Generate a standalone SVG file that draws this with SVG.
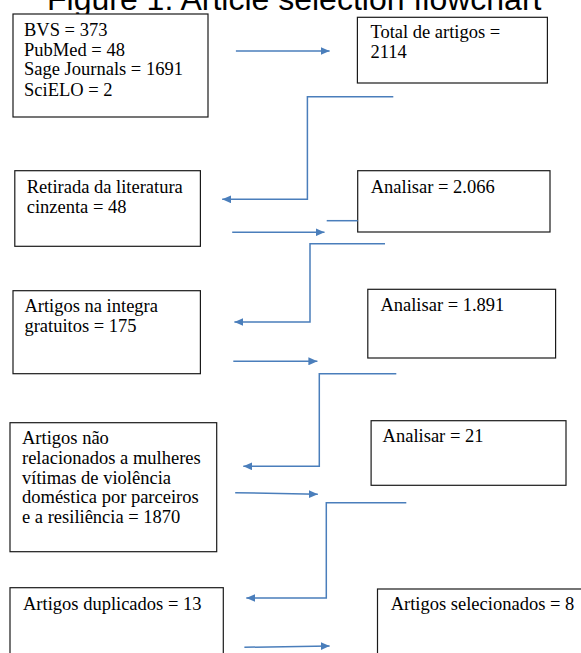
<svg xmlns="http://www.w3.org/2000/svg" width="581" height="653" viewBox="0 0 581 653">
<style>
.box{fill:#fff;stroke:#1a1a1a;stroke-width:1.2}
.t{font-family:"Liberation Serif","Times New Roman",serif;font-size:18.5px;fill:#000}
.title{font-family:"Liberation Sans",Arial,sans-serif;font-size:32px;fill:#000}
.c{fill:none;stroke:#4a7ebb;stroke-width:1.5}
</style>
<defs>
<marker id="ah" markerUnits="userSpaceOnUse" markerWidth="10" markerHeight="8" refX="9" refY="4" orient="auto">
<path d="M0,0 L9,4 L0,8 Z" fill="#4a7ebb"/>
</marker>
</defs>
<rect width="581" height="653" fill="#fff"/>
<text class="title" x="47" y="10">Figure 1. Article selection flowchart</text>

<g id="n1"><rect class="box" x="13" y="14" width="195" height="103"/>
<text class="t" x="24" y="36">BVS = 373</text>
<text class="t" x="24" y="55.7">PubMed = 48</text>
<text class="t" x="24" y="75.3">Sage Journals = 1691</text>
<text class="t" x="24" y="95.7">SciELO = 2</text></g>

<g id="n2"><rect class="box" x="357.4" y="17.3" width="190" height="65.7"/>
<text class="t" x="370.4" y="38.3">Total de artigos =</text>
<text class="t" x="370.4" y="58.3">2114</text></g>

<g id="n3"><rect class="box" x="14.8" y="170.7" width="185.6" height="75.6"/>
<text class="t" x="26.7" y="193.3">Retirada da literatura</text>
<text class="t" x="26.7" y="212.7">cinzenta = 48</text></g>

<g id="n4"><rect class="box" x="357.7" y="170.7" width="192.3" height="61.3"/>
<text class="t" x="370.7" y="192.7">Analisar = 2.066</text></g>

<g id="n5"><rect class="box" x="13" y="290.7" width="187.4" height="83"/>
<text class="t" x="24.4" y="311.7">Artigos na integra</text>
<text class="t" x="24.4" y="331.7">gratuitos = 175</text></g>

<g id="n6"><rect class="box" x="367.8" y="289.3" width="187.8" height="68.7"/>
<text class="t" x="380.4" y="310.7">Analisar = 1.891</text></g>

<g id="n7"><rect class="box" x="10" y="422.7" width="206.7" height="129"/>
<text class="t" x="22" y="444.3">Artigos não</text>
<text class="t" x="22" y="464">relacionados a mulheres</text>
<text class="t" x="22" y="483.5">vítimas de violência</text>
<text class="t" x="22" y="503.3">doméstica por parceiros</text>
<text class="t" x="22" y="523.3">e a resiliência = 1870</text></g>

<g id="n8"><rect class="box" x="371.1" y="420.7" width="194.9" height="64.6"/>
<text class="t" x="382.6" y="442.3">Analisar = 21</text></g>

<g id="n9"><rect class="box" x="10" y="587.7" width="213.3" height="80"/>
<text class="t" x="23" y="610">Artigos duplicados = 13</text></g>

<g id="n10"><rect class="box" x="377.5" y="589" width="220" height="80"/>
<text class="t" x="390.7" y="610">Artigos selecionados = 8</text></g>

<g id="connectors">
<line class="c" x1="235.9" y1="51" x2="329.6" y2="51" marker-end="url(#ah)"/>
<polyline class="c" points="393.3,96.7 307.4,96.7 307.4,199.3 222.2,199.3" marker-end="url(#ah)"/>
<line class="c" x1="232.2" y1="232.3" x2="324.5" y2="232.3" marker-end="url(#ah)"/>
<line class="c" x1="326.7" y1="220.7" x2="357.7" y2="220.7"/>
<polyline class="c" points="385,243.7 310,243.7 310,322 234.4,322" marker-end="url(#ah)"/>
<line class="c" x1="233.3" y1="361.3" x2="317.4" y2="361.3" marker-end="url(#ah)"/>
<polyline class="c" points="396.3,373.7 319.3,373.7 319.3,466.3 243.3,466.3" marker-end="url(#ah)"/>
<line class="c" x1="235.2" y1="492.7" x2="317.8" y2="494.3" marker-end="url(#ah)"/>
<polyline class="c" points="406.3,502.7 326.3,502.7 326.3,598 246.3,598" marker-end="url(#ah)"/>
<line class="c" x1="244.4" y1="647.3" x2="329.6" y2="646" marker-end="url(#ah)"/>
</g>
</svg>
